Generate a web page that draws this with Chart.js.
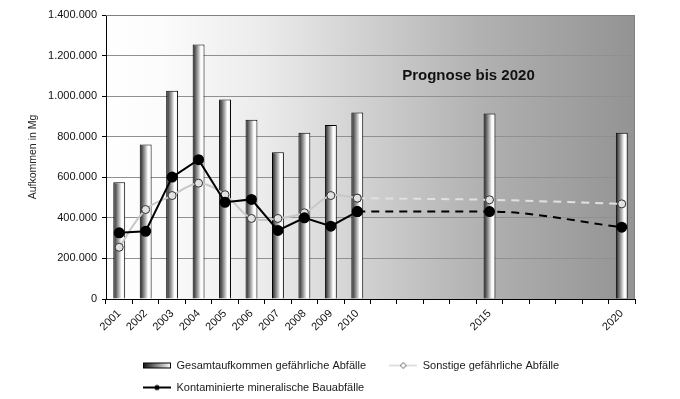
<!DOCTYPE html>
<html>
<head>
<meta charset="utf-8">
<script src="https://cdn.jsdelivr.net/npm/chart.js@4/dist/chart.umd.min.js"></script>
<style>
  html, body { margin: 0; padding: 0; background: #fff; }
  #wrap { width: 680px; height: 399px; }
</style>
</head>
<body>
<div id="wrap"><canvas id="chart"></canvas></div>
<script>
// one slot per year, only some of them get a label
const years = ['2001', '2002', '2003', '2004', '2005', '2006', '2007', '2008', '2009', '2010',
               '2011', '2012', '2013', '2014', '2015', '2016', '2017', '2018', '2019', '2020'];
const shownYears = ['2001', '2002', '2003', '2004', '2005', '2006', '2007', '2008', '2009', '2010', '2015', '2020'];

// values in Mg
const gesamt = [575000, 762000, 1026000, 1255000, 983000, 884000, 724000, 820000, 858000, 919000,
                null, null, null, null, 914000, null, null, null, null, 820000];
const sonstige = [255000, 441000, 510000, 571000, 514000, 397000, 397000, 425000, 510000, 497000,
                  null, null, null, null, 489000, null, null, null, null, 469000];
const kontaminiert = [326000, 334000, 601000, 687000, 477000, 491000, 338000, 400000, 359000, 431000,
                      null, null, null, null, 431000, null, null, null, null, 354000];

const labelGesamt = 'Gesamtaufkommen gefährliche Abfälle';
const labelSonstige = 'Sonstige gefährliche Abfälle';
const labelKontaminiert = 'Kontaminierte mineralische Bauabfälle';
const noteText = 'Prognose bis 2020';

const lastActual = 9; // 2010 - everything after is forecast

const solidPart = arr => arr.map((v, i) => i <= lastActual ? v : null);
const forecastPart = arr => arr.map((v, i) => i >= lastActual ? v : null);

const fmt = v => String(v).replace(/\B(?=(\d{3})+(?!\d))/g, '.');

Chart.defaults.font.family = '"Liberation Sans", Arial, sans-serif';
Chart.defaults.color = '#111';

// cylinder look for the bars
function barFill(c) {
  const chart = c.chart;
  const xs = chart.scales.x;
  if (!xs || c.dataIndex === undefined) return '#999';
  const ds = c.dataset;
  const x = xs.getPixelForValue(c.dataIndex);
  const w = (xs.right - xs.left) / years.length * ds.categoryPercentage * ds.barPercentage;
  const g = chart.ctx.createLinearGradient(x - w / 2, 0, x + w / 2, 0);
  g.addColorStop(0, '#222');
  g.addColorStop(0.15, '#4a4a4a');
  g.addColorStop(0.45, '#a8a8a8');
  g.addColorStop(0.7, '#fff');
  g.addColorStop(1, '#f4f4f4');
  return g;
}

// small pictures for the legend
function legendIcon(draw) {
  const c = document.createElement('canvas');
  c.width = 28;
  c.height = 10;
  draw(c.getContext('2d'));
  return c;
}
const barIcon = legendIcon(g => {
  const gr = g.createLinearGradient(0, 0, 28, 0);
  gr.addColorStop(0, '#111');
  gr.addColorStop(1, '#fff');
  g.fillStyle = gr;
  g.fillRect(0.5, 2.5, 27, 5);
  g.strokeStyle = '#000';
  g.strokeRect(0.5, 2.5, 27, 5);
});
const sonstigeIcon = legendIcon(g => {
  g.strokeStyle = '#c0c0c0';
  g.lineWidth = 1;
  g.beginPath(); g.moveTo(0, 5); g.lineTo(28, 5); g.stroke();
  g.fillStyle = '#fff';
  g.strokeStyle = '#666';
  g.beginPath(); g.moveTo(14, 2); g.lineTo(17, 5); g.lineTo(14, 8); g.lineTo(11, 5); g.closePath();
  g.fill(); g.stroke();
});
const kontaminiertIcon = legendIcon(g => {
  g.strokeStyle = '#000';
  g.lineWidth = 2;
  g.beginPath(); g.moveTo(0, 5); g.lineTo(28, 5); g.stroke();
  g.fillStyle = '#000';
  g.beginPath(); g.arc(14, 5, 2.6, 0, Math.PI * 2); g.fill();
});

const plotDecor = {
  id: 'plotDecor',
  afterLayout(chart) {
    // legend sits left aligned in two rows like the original
    const lg = chart.legend;
    lg.left = 132;
    lg.right = 620;
    lg.top += 4;
    lg.bottom += 4;
  },
  beforeDraw(chart) {
    const { ctx, chartArea: a } = chart;
    const g = ctx.createLinearGradient(a.left, 0, a.right, 0);
    g.addColorStop(0, '#ffffff');
    g.addColorStop(0.1, '#fcfcfc');
    g.addColorStop(0.3, '#ebebeb');
    g.addColorStop(0.5, '#cfcfcf');
    g.addColorStop(0.7, '#b2b2b2');
    g.addColorStop(1, '#939393');
    ctx.save();
    ctx.fillStyle = g;
    ctx.fillRect(a.left, a.top, a.right - a.left, a.bottom - a.top);
    ctx.restore();
  },
  beforeDatasetsDraw(chart) {
    const { ctx, chartArea: a, scales } = chart;
    ctx.save();
    ctx.strokeStyle = '#808080';
    ctx.lineWidth = 1;
    ctx.beginPath();
    ctx.moveTo(a.left, a.top + 0.5);
    ctx.lineTo(a.right - 0.5, a.top + 0.5);
    ctx.lineTo(a.right - 0.5, a.bottom);
    ctx.stroke();
    ctx.font = 'bold 15px "Liberation Sans", Arial, sans-serif';
    ctx.fillStyle = '#111';
    ctx.textAlign = 'left';
    ctx.textBaseline = 'middle';
    ctx.fillText(noteText, scales.x.getPixelForValue(11) - 8, scales.y.getPixelForValue(1100000));
    ctx.restore();
  }
};

const ctx = document.getElementById('chart');

new Chart(ctx, {
  type: 'bar',
  data: {
    labels: years,
    datasets: [
      {
        type: 'bar',
        label: labelGesamt,
        data: gesamt,
        backgroundColor: barFill,
        borderColor: '#000',
        borderWidth: 1,
        categoryPercentage: 0.9,
        barPercentage: 0.5,
        order: 3
      },
      {
        type: 'line',
        label: labelSonstige,
        data: solidPart(sonstige),
        borderColor: '#c8c8c8',
        borderWidth: 2,
        tension: 0.35,
        pointRadius: 4,
        pointBackgroundColor: '#e2e2e2',
        pointBorderColor: '#333',
        pointBorderWidth: 1,
        order: 2
      },
      {
        type: 'line',
        label: labelSonstige + ' (Prognose)',
        data: forecastPart(sonstige),
        spanGaps: true,
        borderColor: '#e0e0e0',
        borderWidth: 2,
        borderDash: [8, 6],
        cubicInterpolationMode: 'monotone',
        pointRadius: 4,
        pointBackgroundColor: '#e2e2e2',
        pointBorderColor: '#333',
        pointBorderWidth: 1,
        order: 2
      },
      {
        type: 'line',
        label: labelKontaminiert,
        data: solidPart(kontaminiert),
        borderColor: '#000',
        borderWidth: 2,
        tension: 0,
        pointRadius: 4.5,
        pointBackgroundColor: '#000',
        pointBorderColor: '#000',
        order: 1
      },
      {
        type: 'line',
        label: labelKontaminiert + ' (Prognose)',
        data: forecastPart(kontaminiert),
        spanGaps: true,
        borderColor: '#000',
        borderWidth: 2,
        borderDash: [8, 6],
        cubicInterpolationMode: 'monotone',
        pointRadius: 4.5,
        pointBackgroundColor: '#000',
        pointBorderColor: '#000',
        order: 1
      }
    ]
  },
  options: {
    responsive: true,
    maintainAspectRatio: false,
    animation: false,
    layout: { padding: { left: 23, right: 45, top: 15, bottom: 0 } },
    scales: {
      x: {
        grid: { display: true, drawOnChartArea: false, drawTicks: true, tickLength: 5, color: '#000', offset: true },
        border: { color: '#000' },
        ticks: {
          autoSkip: false,
          maxRotation: 45,
          minRotation: 45,
          font: { size: 11 },
          color: '#111',
          callback: (v, i) => shownYears.includes(years[i]) ? years[i] : ''
        },
        afterFit: s => { s.height = 46; }
      },
      y: {
        min: 0,
        max: 1400000,
        grid: { color: '#909090', tickColor: '#000', tickLength: 4 },
        border: { color: '#000' },
        ticks: { stepSize: 200000, padding: 5, font: { size: 11 }, color: '#111', callback: v => fmt(v) },
        title: { display: true, text: 'Aufkommen in Mg', font: { size: 10.5 }, color: '#222', padding: { top: 4, bottom: 4 } },
        afterFit: s => { s.width = 83; }
      }
    },
    plugins: {
      tooltip: { enabled: false },
      legend: {
        position: 'bottom',
        align: 'start',
        labels: {
          usePointStyle: true,
          pointStyleWidth: 28,
          padding: 11,
          font: { size: 11 },
          color: '#1a1a1a',
          generateLabels: () => [
            { text: labelGesamt + '    ', pointStyle: barIcon, datasetIndex: 0 },
            { text: labelSonstige, pointStyle: sonstigeIcon, datasetIndex: 1 },
            { text: labelKontaminiert, pointStyle: kontaminiertIcon, datasetIndex: 3 }
          ].map(it => Object.assign({ fillStyle: '#000', strokeStyle: '#000', lineWidth: 0, hidden: false, fontColor: '#1a1a1a' }, it))
        }
      }
    }
  },
  plugins: [plotDecor]
});
</script>
</body>
</html>
